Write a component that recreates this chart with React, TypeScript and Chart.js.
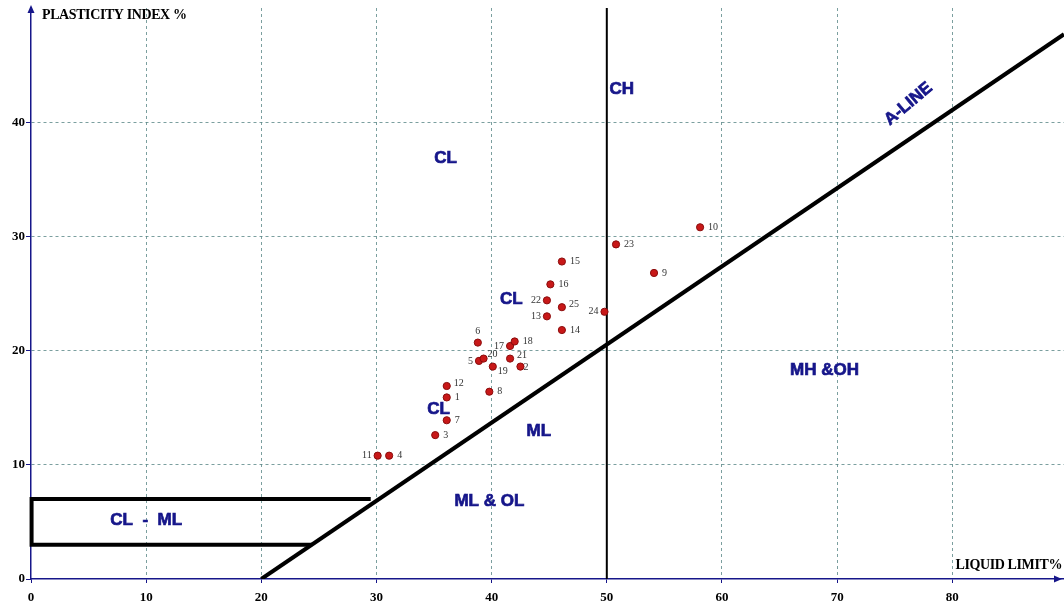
import React, { useEffect, useRef } from "react";
import { Chart, registerables } from "chart.js";

Chart.register(...registerables);

// Sample data: liquid limit (x) and plasticity index (y)
const sampleIds = ["1","2","3","4","5","6","7","8","9","10","11","12","13","14","15","16","17","18","19","20","21","22","23","24","25"];
const liquidLimit = [36.1, 42.5, 35.1, 31.1, 38.9, 38.8, 36.1, 39.8, 54.1, 58.1, 30.1, 36.1, 44.8, 46.1, 46.1, 45.1, 41.6, 42.0, 40.1, 39.3, 41.6, 44.8, 50.8, 49.8, 46.1];
const plasticityIndex = [15.9, 18.6, 12.6, 10.8, 19.1, 20.7, 13.9, 16.4, 26.8, 30.8, 10.8, 16.9, 23.0, 21.8, 27.8, 25.8, 20.4, 20.8, 18.6, 19.3, 19.3, 24.4, 29.3, 23.4, 23.8];
// label placement for each sample: r = right, l = left, t = top, tr = top-right, rd = right-down, ru = right-up
const labelSide = ["r","rc","r","r","l","t","r","r","r","r","l","ru","l","r","r","r","l","r","rd","tr","ru","l","r","l","ru"];

// Chart reference lines
const aLineX = [20, 89.7];
const aLineY = [0, 47.7];
const llDividerX = [50, 50];
const llDividerY = [0, 50];
const clmlBoxX = [29.5, 0.05, 0.05, 24.4];
const clmlBoxY = [7, 7, 3, 3];

// Axis ticks
const xTicks = [0, 10, 20, 30, 40, 50, 60, 70, 80];
const yTicks = [0, 10, 20, 30, 40];

// Zone labels
const zoneText = ["CL", "CH", "CL", "CL", "ML", "ML & OL", "MH &OH", "CL  -  ML"];
const zoneX = [36.0, 51.3, 41.7, 35.4, 44.1, 39.8, 68.9, 10.0];
const zoneY = [36.8, 42.9, 24.5, 14.9, 12.9, 6.8, 18.3, 5.15];

const NAVY = "#16168a";

const overlayPlugin = {
  id: "overlay",
  afterDatasetsDraw(chart: any) {
    const ctx = chart.ctx;
    const xs = chart.scales.x;
    const ys = chart.scales.y;
    ctx.save();
    // point labels
    ctx.font = "10px 'Liberation Serif'";
    ctx.fillStyle = "#333";
    ctx.textBaseline = "middle";
    for (let i = 0; i < sampleIds.length; i++) {
      const px = xs.getPixelForValue(liquidLimit[i]);
      const py = ys.getPixelForValue(plasticityIndex[i]);
      const s = labelSide[i];
      let dx = 8, dy = 0, align: CanvasTextAlign = "left";
      if (s === "l") { dx = -6; align = "right"; }
      else if (s === "t") { dx = 0; dy = -11; align = "center"; }
      else if (s === "tr") { dx = 4; dy = -4; align = "left"; }
      else if (s === "rd") { dx = 5; dy = 5; }
      else if (s === "ru") { dx = 7; dy = -3; }
      else if (s === "rc") { dx = 3; dy = 1; }
      ctx.textAlign = align;
      ctx.fillText(sampleIds[i], px + dx, py + dy);
    }
    // zone labels (slightly stroked to look heavier)
    ctx.font = "bold 17px 'Liberation Sans'";
    ctx.fillStyle = NAVY;
    ctx.strokeStyle = NAVY;
    ctx.lineWidth = 0.7;
    ctx.textAlign = "center";
    for (let i = 0; i < zoneText.length; i++) {
      const zx = xs.getPixelForValue(zoneX[i]);
      const zy = ys.getPixelForValue(zoneY[i]);
      ctx.fillText(zoneText[i], zx, zy);
      ctx.strokeText(zoneText[i], zx, zy);
    }
    // A-LINE rotated
    ctx.save();
    ctx.translate(xs.getPixelForValue(76.2), ys.getPixelForValue(41.6));
    ctx.rotate(-40 * Math.PI / 180);
    ctx.fillText("A-LINE", 0, 0);
    ctx.strokeText("A-LINE", 0, 0);
    ctx.restore();

    // axis arrows
    const left = chart.chartArea.left;
    const bottom = chart.chartArea.bottom;
    const top = chart.chartArea.top;
    const right = chart.chartArea.right;
    ctx.fillStyle = NAVY;
    ctx.beginPath();
    ctx.moveTo(left, top - 3);
    ctx.lineTo(left - 3.5, top + 5);
    ctx.lineTo(left + 3.5, top + 5);
    ctx.closePath();
    ctx.fill();
    ctx.beginPath();
    ctx.moveTo(right - 2, bottom);
    ctx.lineTo(right - 10, bottom - 3.5);
    ctx.lineTo(right - 10, bottom + 3.5);
    ctx.closePath();
    ctx.fill();

    // axis titles
    ctx.fillStyle = "#000";
    ctx.font = "bold 14px 'Liberation Serif'";
    (ctx as any).letterSpacing = "-0.4px";
    ctx.textAlign = "left";
    ctx.fillText("PLASTICITY INDEX %", 42, 15);
    ctx.textAlign = "right";
    ctx.fillText("LIQUID LIMIT%", 1062, 565);
    ctx.restore();
  },
};

export default function App() {
  const canvasRef = useRef<HTMLCanvasElement | null>(null);

  useEffect(() => {
    document.body.style.margin = "0";
    if (!canvasRef.current) return;
    const points = liquidLimit.map((x, i) => ({ x, y: plasticityIndex[i] }));
    const gridColor = (c: any) => (c.tick && c.tick.value === 0 ? "rgba(0,0,0,0)" : "rgba(90,135,135,0.8)");
    const chart = new Chart(canvasRef.current, {
      type: "scatter",
      data: {
        datasets: [
          {
            label: "A-line",
            data: aLineX.map((x, i) => ({ x, y: aLineY[i] })),
            showLine: true,
            borderColor: "#000",
            borderWidth: 4,
            pointRadius: 0,
            order: 3,
          } as any,
          {
            label: "LL 50",
            data: llDividerX.map((x, i) => ({ x, y: llDividerY[i] })),
            showLine: true,
            borderColor: "#000",
            borderWidth: 2,
            pointRadius: 0,
            order: 3,
          },
          {
            label: "CL-ML",
            data: clmlBoxX.map((x, i) => ({ x, y: clmlBoxY[i] })),
            showLine: true,
            borderColor: "#000",
            borderWidth: 4,
            pointRadius: 0,
            clip: false,
            order: 3,
          },
          {
            label: "Samples",
            data: points,
            backgroundColor: "#c81818",
            borderColor: "#8a0c0c",
            borderWidth: 1,
            pointRadius: 3.6,
            order: 1,
          },
        ],
      },
      options: {
        animation: false,
        responsive: false,
        layout: { padding: { top: 8, right: 0, left: 0, bottom: 0 } },
        plugins: { legend: { display: false }, tooltip: { enabled: false } },
        scales: {
          x: {
            type: "linear",
            min: 0,
            max: 89.7,
            afterFit(scale: any) {
              scale.height = 25;
              scale.paddingLeft = 0;
              scale.paddingRight = 0;
            },
            afterBuildTicks(scale: any) { scale.ticks = xTicks.map((v) => ({ value: v })); },
            ticks: {
              includeBounds: false,
              padding: 7,
              color: "#000",
              font: { family: "'Liberation Serif'", weight: "bold", size: 13 },
            },
            grid: { drawTicks: true, tickLength: 4, tickColor: NAVY, tickWidth: 1, color: gridColor, lineWidth: 1 },
            border: { color: NAVY, width: 1.5, dash: [3, 3] },
          },
          y: {
            type: "linear",
            min: 0,
            max: 50,
            afterFit(scale: any) {
              scale.width = 31;
              scale.paddingTop = 0;
              scale.paddingBottom = 0;
            },
            afterBuildTicks(scale: any) { scale.ticks = yTicks.map((v) => ({ value: v })); },
            ticks: {
              includeBounds: false,
              padding: 1,
              color: "#000",
              font: { family: "'Liberation Serif'", weight: "bold", size: 13 },
            },
            grid: { drawTicks: true, tickLength: 5, tickColor: NAVY, tickWidth: 1, color: gridColor, lineWidth: 1 },
            border: { color: NAVY, width: 1.5, dash: [3, 3] },
          },
        },
      } as any,
      plugins: [overlayPlugin],
    });
    return () => chart.destroy();
  }, []);

  return (
    <div style={{ position: "fixed", left: 0, top: 0, width: 1064, height: 604, overflow: "hidden", background: "#fff" }}>
      <canvas ref={canvasRef} width={1069} height={604} style={{ width: 1069, height: 604, display: "block" }} />
    </div>
  );
}
